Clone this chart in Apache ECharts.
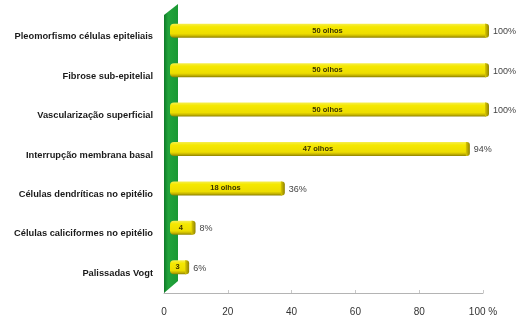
<!DOCTYPE html>
<html>
<head>
<meta charset="utf-8">
<script src="https://cdn.jsdelivr.net/npm/echarts@6/dist/echarts.min.js"></script>
<style>
  html, body { margin: 0; padding: 0; background: #fff; }
  #chart { width: 520px; height: 321px; }
</style>
</head>
<body>
<div id="chart"></div>
<script>
// categories, top to bottom
const categories = [
  'Pleomorfismo células epiteliais',
  'Fibrose sub-epitelial',
  'Vascularização superficial',
  'Interrupção membrana basal',
  'Células dendríticas no epitélio',
  'Células caliciformes no epitélio',
  'Palissadas Vogt'
]
// percent of eyes
const percents = [100, 100, 100, 94, 36, 8, 6]
// text written inside each bar
const innerLabels = ['50 olhos', '50 olhos', '50 olhos', '47 olhos', '18 olhos', '4', '3']
const xTickLabels = ['0', '20', '40', '60', '80', '100 %']

// pseudo 3D depth (bars sit half way into the wall)
const WALL_DX = 14, WALL_DY = -12
const BAR_DX = 6, BAR_DY = -6
const BAR_H = 14

const chart = echarts.init(document.getElementById('chart'))

function renderWall(params, api) {
  const cs = params.coordSys
  const x = cs.x, y = cs.y, h = cs.height
  return {
    type: 'polygon',
    silent: true,
    shape: { points: [[x, y + h], [x, y - 2], [x + WALL_DX, y + WALL_DY - 1], [x + WALL_DX, y + h + WALL_DY]] },
    style: {
      fill: new echarts.graphic.LinearGradient(0, 0, 1, 0, [
        { offset: 0, color: '#0e7a28' },
        { offset: 0.3, color: '#22a43c' },
        { offset: 1, color: '#1a9834' }
      ])
    }
  }
}

function renderBar(params, api) {
  const idx = api.value(1)
  const start = api.coord([0, idx])
  const end = api.coord([api.value(0), idx])
  const x0 = start[0] + BAR_DX
  const x1 = end[0] + BAR_DX
  const yc = start[1] + BAR_DY
  const top = yc - BAR_H / 2
  const cap = 4
  return {
    type: 'group',
    children: [
      {
        type: 'rect',
        shape: { x: x0, y: top, width: x1 - x0 - cap + 1, height: BAR_H, r: [4, 0, 0, 4] },
        style: {
          fill: new echarts.graphic.LinearGradient(0, 0, 0, 1, [
            { offset: 0, color: '#f6ee50' },
            { offset: 0.22, color: '#f5e800' },
            { offset: 0.72, color: '#eddd00' },
            { offset: 0.86, color: '#c9b800' },
            { offset: 1, color: '#8c8000' }
          ])
        }
      },
      {
        type: 'rect',
        shape: { x: x1 - cap, y: top, width: cap, height: BAR_H, r: [0, 3, 3, 0] },
        style: {
          fill: new echarts.graphic.LinearGradient(0, 0, 1, 0, [
            { offset: 0, color: '#d9c800' },
            { offset: 1, color: '#8f8200' }
          ])
        }
      },
      {
        type: 'text',
        style: {
          text: innerLabels[idx],
          x: (x0 + x1 - cap) / 2,
          y: yc,
          align: 'center',
          verticalAlign: 'middle',
          fill: '#3a3200',
          font: 'bold 7.5px "Liberation Sans", Arial, sans-serif'
        }
      },
      {
        type: 'text',
        style: {
          text: percents[idx] + '%',
          x: x1 + 4,
          y: yc + 1,
          align: 'left',
          verticalAlign: 'middle',
          fill: '#444',
          font: '9px "Liberation Sans", Arial, sans-serif'
        }
      }
    ]
  }
}

chart.setOption({
  animation: false,
  backgroundColor: '#ffffff',
  grid: { left: 164, right: 37, top: 17, bottom: 28 },
  xAxis: {
    type: 'value',
    min: 0,
    max: 100,
    interval: 20,
    axisLine: { show: true, lineStyle: { color: '#b4b4b4', width: 1 } },
    axisTick: { show: true, inside: true, length: 3, lineStyle: { color: '#c8c8c8' } },
    splitLine: { show: false },
    axisLabel: {
      color: '#333',
      fontSize: 10,
      fontFamily: '"Liberation Sans", Arial, sans-serif',
      margin: 14,
      formatter: v => xTickLabels[Math.round(v / 20)]
    }
  },
  yAxis: {
    type: 'category',
    inverse: true,
    data: categories,
    axisLine: { show: false },
    axisTick: { show: false },
    axisLabel: {
      color: '#1a1a1a',
      fontWeight: 'bold',
      fontSize: 9.3,
      fontFamily: '"Liberation Sans", Arial, sans-serif',
      margin: 11
    }
  },
  series: [
    {
      type: 'custom',
      silent: true,
      z: 1,
      renderItem: renderWall,
      data: [[0, 0]]
    },
    {
      type: 'custom',
      z: 2,
      renderItem: renderBar,
      encode: { x: 0, y: 1 },
      data: percents.map((p, i) => [p, i])
    }
  ]
})
</script>
</body>
</html>
